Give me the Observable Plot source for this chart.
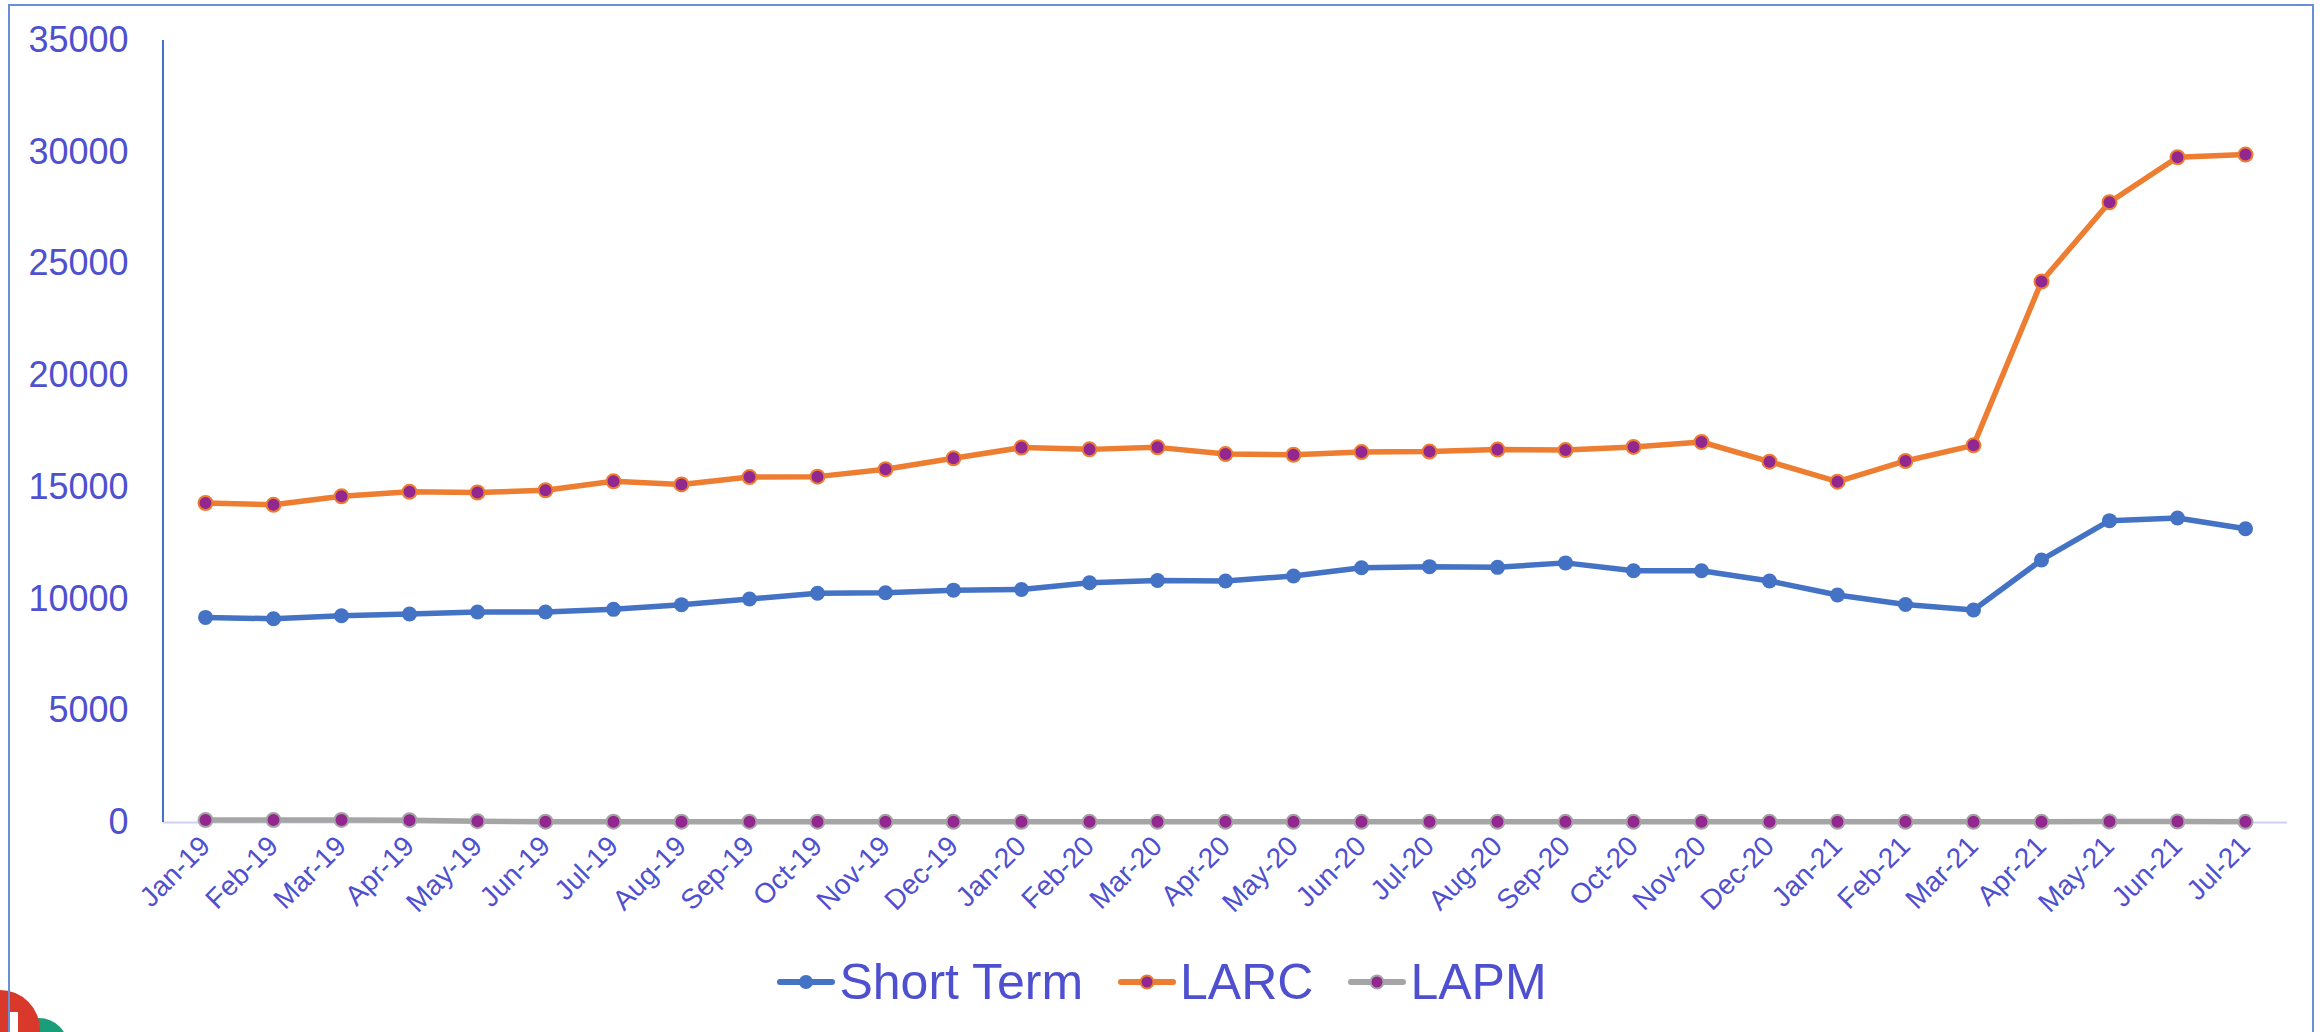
<!DOCTYPE html>
<html>
<head>
<meta charset="utf-8">
<script src="https://cdn.jsdelivr.net/npm/d3@7"></script>
<script src="https://cdn.jsdelivr.net/npm/@observablehq/plot@0.6"></script>
<style>
  html, body { margin: 0; padding: 0; background: #fff; overflow: hidden; }
  #wrap { position: relative; width: 2323px; height: 1032px; font-family: "Liberation Sans", Arial, sans-serif; }
  #frame { position: absolute; left: 8px; top: 4px; width: 2306px; height: 1100px; border: 2px solid #6a8fd6; box-sizing: border-box; }
  #chart { position: absolute; left: 0; top: 0; }
  #legend { position: absolute; left: 0; top: 952px; width: 2323px; display: flex; justify-content: center; align-items: center; color: #4e50cf; font-size: 50px; line-height: 60px; }
  .item { display: flex; align-items: center; margin: 0 17px; }
  .item svg { margin-right: 3px; }
  .logo { position: absolute; border-radius: 50%; }
</style>
</head>
<body>
<div id="wrap">
  <div class="logo" style="left:10px; top:1018px; width:58px; height:58px; background:#1a9e7a;"></div>
  <div class="logo" style="left:-40px; top:990px; width:80px; height:80px; background:#d8392b;"></div>
  <div style="position:absolute; left:10px; top:1012px; width:8px; height:22px; background:#fff;"></div>
  <div id="frame"></div>
  <div id="chart"></div>
  <div id="legend"></div>
</div>
<script>
const months = ["Jan-19","Feb-19","Mar-19","Apr-19","May-19","Jun-19","Jul-19","Aug-19","Sep-19","Oct-19","Nov-19","Dec-19",
  "Jan-20","Feb-20","Mar-20","Apr-20","May-20","Jun-20","Jul-20","Aug-20","Sep-20","Oct-20","Nov-20","Dec-20",
  "Jan-21","Feb-21","Mar-21","Apr-21","May-21","Jun-21","Jul-21"];
const shortTerm = [9180,9120,9255,9330,9420,9420,9540,9750,10000,10260,10285,10400,
  10430,10730,10830,10810,11030,11400,11450,11420,11620,11270,11270,10810,
  10180,9760,9510,11750,13510,13630,13150];
const larc = [14300,14220,14600,14800,14770,14870,15270,15130,15460,15480,15810,16300,
  16780,16700,16790,16490,16460,16580,16600,16690,16670,16810,17030,16150,
  15255,16180,16880,24210,27760,29775,29895];
const lapm = [110,110,115,105,60,35,35,35,35,35,30,30,
  30,30,30,30,30,30,30,30,30,30,30,30,
  30,30,30,30,45,45,30];
const seriesNames = ["Short Term","LARC","LAPM"];
const yTicks = [0,5000,10000,15000,20000,25000,30000,35000];

const lineColors = ["#4472C4","#ED7D31","#A5A5A5"];
const dotFill = ["#4472C4","#92278F","#92278F"];
const dotStroke = ["#4472C4","#ED7D31","#A5A5A5"];

const seriesValues = [shortTerm, larc, lapm];
const table = [];
seriesNames.forEach((s, si) => months.forEach((m, i) => table.push({series: s, month: m, value: seriesValues[si][i]})));

const W = 2323, H = 930, ML = 163, MR = 36, MT = 40, MB = 108;
const textColor = "#4e50cf";

const drawOrder = [2, 1, 0];
const marks = [
  Plot.ruleY([0], {stroke: "#cfd0f3", strokeWidth: 2}),
  Plot.axisY({ticks: yTicks, tickSize: 0, tickPadding: 35, fontSize: 36, label: null, fill: textColor, tickFormat: d => String(d)}),
  Plot.axisX({tickRotate: -45, tickSize: 0, tickPadding: 19, fontSize: 28, label: null, fill: textColor})
];
drawOrder.forEach(si => {
  const d = table.filter(r => r.series === seriesNames[si]);
  marks.push(Plot.line(d, {x: "month", y: "value", stroke: lineColors[si], strokeWidth: 5.5, strokeLinejoin: "round"}));
  marks.push(Plot.dot(d, {x: "month", y: "value", r: si === 0 ? 7.5 : 7, fill: dotFill[si], stroke: dotStroke[si], strokeWidth: si === 0 ? 0 : 2}));
});

const chart = Plot.plot({
  width: W, height: H,
  marginLeft: ML, marginRight: MR, marginTop: MT, marginBottom: MB,
  style: {fontFamily: "'Liberation Sans', Arial, sans-serif", color: textColor, background: "transparent", overflow: "visible"},
  x: {type: "point", domain: months, padding: 0.5},
  y: {domain: [0, 35000]},
  marks
});
document.getElementById("chart").appendChild(chart);

// vertical axis line on the left edge of the plot area
d3.select(chart).append("line")
  .attr("x1", ML).attr("x2", ML).attr("y1", MT).attr("y2", H - MB)
  .attr("stroke", "#4472C4").attr("stroke-width", 2);

// legend
const legend = d3.select("#legend");
seriesNames.forEach((s, si) => {
  const it = legend.append("div").attr("class", "item");
  const sv = it.append("svg").attr("width", 60).attr("height", 20);
  sv.append("line").attr("x1", 4).attr("x2", 56).attr("y1", 10).attr("y2", 10)
    .attr("stroke", lineColors[si]).attr("stroke-width", 6).attr("stroke-linecap", "round");
  sv.append("circle").attr("cx", 30).attr("cy", 10).attr("r", si === 0 ? 7 : 6.5)
    .attr("fill", dotFill[si]).attr("stroke", dotStroke[si]).attr("stroke-width", si === 0 ? 0 : 2);
  it.append("span").text(s);
});
</script>
</body>
</html>
